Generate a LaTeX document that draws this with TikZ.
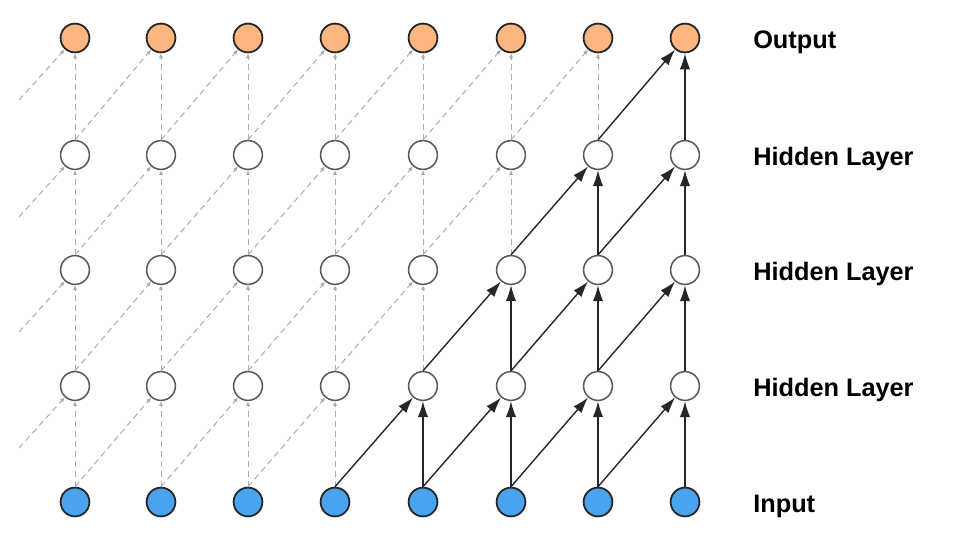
\documentclass[tikz,border=0pt]{standalone}
\usepackage{fontspec}
\setmainfont{Liberation Sans}
\usepackage{xcolor}
\usepackage{tikz}
\usetikzlibrary{arrows.meta}
\definecolor{outorange}{RGB}{253,182,128}
\definecolor{inblue}{RGB}{74,163,238}
\definecolor{dashgray}{RGB}{172,172,172}
\tikzset{
  unit/.style={circle, draw=black!65, line width=0.38mm, fill=white,
               minimum size=7.2mm, inner sep=0pt},
  inunit/.style={unit, draw=black!85, line width=0.45mm, fill=inblue},
  outunit/.style={unit, draw=black!85, line width=0.45mm, fill=outorange},
  lbl/.style={anchor=base west, inner sep=0pt, font=\fontsize{18}{20}\selectfont\bfseries},
  arr/.style={-{Latex[length=4mm, width=2.6mm]}, line width=0.35mm, draw=black!85},
  darr/.style={-{Latex[length=1.2mm, width=1.1mm]}, draw=dashgray, line width=0.25mm,
               dash pattern=on 1.5mm off 1mm},
}
\begin{document}
\begin{tikzpicture}[x=0.25mm, y=-0.25mm]
  \useasboundingbox (0,0) rectangle (959,547);
  % output row
  \node[outunit] (out1) at (75,38) {};  \node[outunit] (out2) at (161,38) {};
  \node[outunit] (out3) at (248,38) {}; \node[outunit] (out4) at (335,38) {};
  \node[outunit] (out5) at (423,38) {}; \node[outunit] (out6) at (511,38) {};
  \node[outunit] (out7) at (598,38) {}; \node[outunit] (out8) at (685,38) {};
  % hidden rows
  \node[unit] (hc1) at (75,155) {};  \node[unit] (hc2) at (161,155) {};
  \node[unit] (hc3) at (248,155) {}; \node[unit] (hc4) at (335,155) {};
  \node[unit] (hc5) at (423,155) {}; \node[unit] (hc6) at (511,155) {};
  \node[unit] (hc7) at (598,155) {}; \node[unit] (hc8) at (685,155) {};
  \node[unit] (hb1) at (75,270) {};  \node[unit] (hb2) at (161,270) {};
  \node[unit] (hb3) at (248,270) {}; \node[unit] (hb4) at (335,270) {};
  \node[unit] (hb5) at (423,270) {}; \node[unit] (hb6) at (511,270) {};
  \node[unit] (hb7) at (598,270) {}; \node[unit] (hb8) at (685,270) {};
  \node[unit] (ha1) at (75,386) {};  \node[unit] (ha2) at (161,386) {};
  \node[unit] (ha3) at (248,386) {}; \node[unit] (ha4) at (335,386) {};
  \node[unit] (ha5) at (423,386) {}; \node[unit] (ha6) at (511,386) {};
  \node[unit] (ha7) at (598,386) {}; \node[unit] (ha8) at (685,386) {};
  % input row
  \node[inunit] (in1) at (75,502) {};  \node[inunit] (in2) at (161,502) {};
  \node[inunit] (in3) at (248,502) {}; \node[inunit] (in4) at (335,502) {};
  \node[inunit] (in5) at (423,502) {}; \node[inunit] (in6) at (511,502) {};
  \node[inunit] (in7) at (598,502) {}; \node[inunit] (in8) at (685,502) {};
  % labels
  \node[lbl] (lout) at (753,48) {Output};
  \node[lbl] (lhc) at (753,165) {Hidden Layer};
  \node[lbl] (lhb) at (753,280) {Hidden Layer};
  \node[lbl] (lha) at (753,396) {Hidden Layer};
  \node[lbl] (lin) at (753,512) {Input};
  % loose ends on the left
  \coordinate (e1) at (19,100); \coordinate (e2) at (19,217);
  \coordinate (e3) at (19,332); \coordinate (e4) at (19,448);
  % dashed connections
  \draw[darr] (hc1)--(out1); \draw[darr] (hc2)--(out2); \draw[darr] (hc3)--(out3);
  \draw[darr] (hc4)--(out4); \draw[darr] (hc5)--(out5); \draw[darr] (hc6)--(out6);
  \draw[darr] (hc7)--(out7);
  \draw[darr] (hb1)--(hc1); \draw[darr] (hb2)--(hc2); \draw[darr] (hb3)--(hc3);
  \draw[darr] (hb4)--(hc4); \draw[darr] (hb5)--(hc5); \draw[darr] (hb6)--(hc6);
  \draw[darr] (ha1)--(hb1); \draw[darr] (ha2)--(hb2); \draw[darr] (ha3)--(hb3);
  \draw[darr] (ha4)--(hb4); \draw[darr] (ha5)--(hb5);
  \draw[darr] (in1)--(ha1); \draw[darr] (in2)--(ha2); \draw[darr] (in3)--(ha3);
  \draw[darr] (in4)--(ha4);
  \draw[darr] (e1)--(out1); \draw[darr] (hc1.north)--(out2); \draw[darr] (hc2.north)--(out3);
  \draw[darr] (hc3.north)--(out4); \draw[darr] (hc4.north)--(out5);
  \draw[darr] (hc5.north)--(out6); \draw[darr] (hc6.north)--(out7);
  \draw[darr] (e2)--(hc1); \draw[darr] (hb1.north)--(hc2); \draw[darr] (hb2.north)--(hc3);
  \draw[darr] (hb3.north)--(hc4); \draw[darr] (hb4.north)--(hc5); \draw[darr] (hb5.north)--(hc6);
  \draw[darr] (e3)--(hb1); \draw[darr] (ha1.north)--(hb2); \draw[darr] (ha2.north)--(hb3);
  \draw[darr] (ha3.north)--(hb4); \draw[darr] (ha4.north)--(hb5);
  \draw[darr] (e4)--(ha1); \draw[darr] (in1.north)--(ha2); \draw[darr] (in2.north)--(ha3);
  \draw[darr] (in3.north)--(ha4);
  % solid connections
  \draw[arr] (hc8)--(out8); \draw[arr] (hc7.north)--(out8);
  \draw[arr] (hb7)--(hc7); \draw[arr] (hb8)--(hc8);
  \draw[arr] (hb6.north)--(hc7); \draw[arr] (hb7.north)--(hc8);
  \draw[arr] (ha6)--(hb6); \draw[arr] (ha7)--(hb7); \draw[arr] (ha8)--(hb8);
  \draw[arr] (ha5.north)--(hb6); \draw[arr] (ha6.north)--(hb7); \draw[arr] (ha7.north)--(hb8);
  \draw[arr] (in5)--(ha5); \draw[arr] (in6)--(ha6); \draw[arr] (in7)--(ha7); \draw[arr] (in8)--(ha8);
  \draw[arr] (in4.north)--(ha5); \draw[arr] (in5.north)--(ha6);
  \draw[arr] (in6.north)--(ha7); \draw[arr] (in7.north)--(ha8);
\end{tikzpicture}
\end{document}
